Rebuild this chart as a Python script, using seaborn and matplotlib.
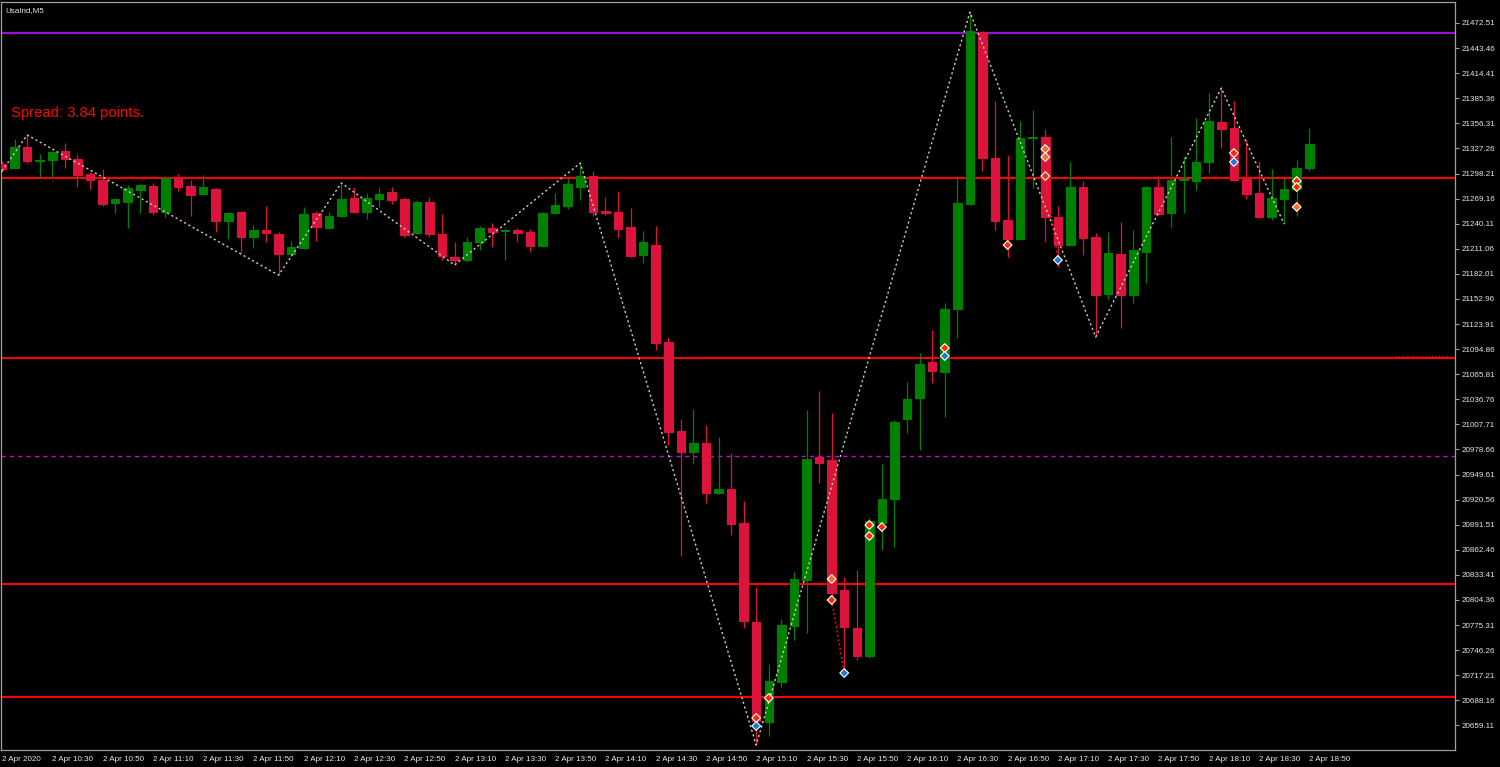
"""
UsaInd M5 candlestick chart in a dark trading terminal style
"""
import matplotlib
matplotlib.use("Agg")
import matplotlib.pyplot as plt
import seaborn as sns
import pandas as pd

symbol_label = "UsaInd,M5"
spread_label = "Spread: 3.84 points."

# OHLC of the 5 minute bars, 2 Apr 2020 10:10 .. 18:50
opens = [21309.2, 21304.6, 21328.9, 21312.7, 21313.8, 21324.2, 21315.0, 21297.6, 21290.7, 21264.0,
         21265.2, 21279.1, 21283.7, 21253.6, 21293.0, 21283.7, 21274.4, 21280.2, 21243.2, 21253.6,
         21224.7, 21232.8, 21228.1, 21205.0, 21211.9, 21252.4, 21235.1, 21249.0, 21269.8, 21253.6,
         21268.7, 21276.8, 21268.7, 21229.3, 21265.2, 21228.1, 21201.5, 21198.0, 21218.9, 21235.1,
         21231.6, 21232.8, 21230.4, 21214.2, 21252.4, 21260.6, 21282.6, 21295.3, 21254.8, 21253.6,
         21236.2, 21203.8, 21215.4, 21103.1, 21000.0, 20975.7, 20986.1, 20928.2, 20932.8, 20893.5,
         20778.8, 20663.0, 20709.3, 20774.2, 20827.5, 20969.9, 20966.4, 20815.9, 20771.9, 20739.5,
         20893.5, 20921.3, 21013.9, 21038.2, 21079.9, 21068.3, 21141.3, 21262.9, 21462.0, 21316.1,
         21244.3, 21222.3, 21339.3, 21340.5, 21247.8, 21215.4, 21282.6, 21224.7, 21158.6, 21205.0,
         21157.5, 21207.3, 21282.6, 21252.4, 21290.7, 21289.5, 21311.5, 21357.8, 21350.9, 21291.8,
         21275.6, 21247.8, 21268.7, 21280.2, 21304.6]
highs = [21312.7, 21338.1, 21342.8, 21320.8, 21324.2, 21333.5, 21320.8, 21299.9, 21303.4, 21269.8,
         21284.9, 21286.0, 21287.2, 21295.3, 21297.6, 21290.7, 21296.4, 21281.4, 21253.6, 21254.8,
         21238.5, 21260.6, 21230.4, 21220.0, 21259.4, 21254.8, 21253.6, 21287.2, 21282.6, 21275.6,
         21282.6, 21282.6, 21271.0, 21267.5, 21271.0, 21251.3, 21218.9, 21224.7, 21237.4, 21240.9,
         21235.1, 21235.1, 21233.9, 21253.6, 21275.6, 21293.0, 21310.3, 21301.1, 21271.0, 21277.9,
         21258.2, 21231.6, 21237.4, 21108.9, 21013.9, 21025.5, 21006.9, 20993.1, 20974.5, 20918.9,
         20819.4, 20730.2, 20782.3, 20836.7, 21024.3, 21046.3, 21020.8, 20830.9, 20839.0, 20899.3,
         20961.8, 21012.7, 21056.7, 21090.3, 21117.0, 21148.2, 21294.1, 21485.2, 21463.2, 21382.1,
         21319.6, 21359.0, 21371.7, 21349.7, 21260.6, 21311.5, 21289.5, 21229.3, 21230.4, 21242.0,
         21232.8, 21283.7, 21295.3, 21340.5, 21318.5, 21362.5, 21391.4, 21397.2, 21382.1, 21337.0,
         21312.7, 21303.4, 21293.0, 21313.8, 21350.9]
lows = [21299.9, 21303.4, 21310.3, 21293.0, 21293.0, 21304.6, 21282.6, 21280.2, 21260.6, 21252.4,
        21235.1, 21252.4, 21250.1, 21247.8, 21277.9, 21249.0, 21273.3, 21230.4, 21222.3, 21206.1,
        21211.9, 21218.9, 21180.6, 21202.7, 21210.8, 21220.0, 21233.9, 21247.8, 21252.4, 21245.5,
        21259.4, 21262.9, 21224.7, 21228.1, 21224.7, 21198.0, 21192.2, 21195.7, 21209.6, 21213.1,
        21198.0, 21218.9, 21207.3, 21213.1, 21251.3, 21257.1, 21267.5, 21249.0, 21250.1, 21223.5,
        21201.5, 21194.5, 21093.8, 20983.8, 20855.3, 20961.8, 20916.6, 20927.0, 20879.6, 20771.9,
        20636.4, 20646.8, 20703.6, 20758.0, 20766.1, 20939.8, 20798.5, 20715.1, 20734.8, 20737.1,
        20862.2, 20865.7, 20997.7, 20978.0, 21055.6, 21016.2, 21107.7, 21261.7, 21301.1, 21232.8,
        21201.5, 21221.2, 21281.4, 21218.9, 21189.9, 21214.2, 21203.8, 21108.9, 21152.9, 21119.3,
        21148.2, 21171.4, 21250.1, 21236.2, 21252.4, 21279.1, 21298.8, 21327.7, 21289.5, 21268.7,
        21246.7, 21244.3, 21239.7, 21249.0, 21301.1]
closes = [21303.4, 21328.9, 21312.7, 21313.8, 21323.1, 21315.0, 21296.4, 21290.7, 21262.9, 21268.7,
          21281.4, 21284.9, 21253.6, 21293.0, 21282.6, 21273.3, 21282.6, 21243.2, 21252.4, 21224.7,
          21232.8, 21229.3, 21205.0, 21213.1, 21251.3, 21236.2, 21249.0, 21268.7, 21253.6, 21269.8,
          21274.4, 21267.5, 21227.0, 21265.2, 21228.1, 21202.7, 21198.0, 21218.9, 21235.1, 21230.4,
          21232.8, 21229.3, 21214.2, 21252.4, 21261.7, 21286.0, 21295.3, 21253.6, 21252.4, 21233.9,
          21202.7, 21218.9, 21101.9, 20998.8, 20975.7, 20986.1, 20928.2, 20932.8, 20892.3, 20780.0,
          20664.2, 20710.5, 20775.3, 20828.6, 20967.6, 20962.9, 20812.4, 20773.0, 20739.5, 20895.8,
          20921.3, 21010.4, 21037.1, 21077.6, 21069.5, 21141.3, 21264.0, 21463.2, 21316.1, 21243.2,
          21222.3, 21339.3, 21340.5, 21247.8, 21215.4, 21282.6, 21223.5, 21157.5, 21206.1, 21157.5,
          21209.6, 21282.6, 21251.3, 21290.7, 21291.8, 21311.5, 21359.0, 21349.7, 21290.7, 21274.4,
          21247.8, 21269.8, 21280.2, 21304.6, 21332.3]

time_labels = ["2 Apr 2020", "2 Apr 10:30", "2 Apr 10:50", "2 Apr 11:10", "2 Apr 11:30",
               "2 Apr 11:50", "2 Apr 12:10", "2 Apr 12:30", "2 Apr 12:50", "2 Apr 13:10",
               "2 Apr 13:30", "2 Apr 13:50", "2 Apr 14:10", "2 Apr 14:30", "2 Apr 14:50",
               "2 Apr 15:10", "2 Apr 15:30", "2 Apr 15:50", "2 Apr 16:10", "2 Apr 16:30",
               "2 Apr 16:50", "2 Apr 17:10", "2 Apr 17:30", "2 Apr 17:50", "2 Apr 18:10",
               "2 Apr 18:30", "2 Apr 18:50"]
price_ticks = [21472.51, 21443.46, 21414.41, 21385.36, 21356.31, 21327.26, 21298.21, 21269.16,
               21240.11, 21211.06, 21182.01, 21152.96, 21123.91, 21094.86, 21065.81, 21036.76,
               21007.71, 20978.66, 20949.61, 20920.56, 20891.51, 20862.46, 20833.41, 20804.36,
               20775.31, 20746.26, 20717.21, 20688.16, 20659.11]

# zigzag pivots (bar index, price)
zigzag_bars = [0, 2, 22, 27, 36, 46, 60, 77, 87, 97, 102]
zigzag_prices = [21301.1, 21342.8, 21180.6, 21287.2, 21192.2, 21310.3,
                 20636.4, 21485.2, 21108.9, 21397.2, 21239.7]

# red dotted links between signals
link_bars = [[66, 67], [83, 84]]
link_prices = [[20804.3, 20719.8], [21295.3, 21198.0]]

# signal markers
signal_bars = [60, 60, 61, 66, 66, 67, 69, 69, 70, 75, 75, 80, 83, 83, 83, 84, 98, 98, 103, 103, 103]
signal_prices = [20667.7, 20658.4, 20690.8, 20828.6, 20804.3, 20719.8, 20891.1, 20878.4, 20888.8,
                 21096.1, 21086.9, 21215.4, 21326.6, 21317.3, 21295.3, 21198.0, 21321.9, 21311.5,
                 21289.5, 21282.6, 21259.4]
signal_kind = ["sell", "buy", "sell", "exit", "sell", "buy", "sell", "sell", "sell", "sell", "buy",
               "sell", "exit", "exit", "sell", "buy", "sell", "buy", "sell", "sell", "exit"]

red_levels = [21293.0, 21084.5, 20822.8, 20692.0]
purple_level = 21461.1
magenta_level = 20971.1
bid_level = 21086.9

BULL = "#008000"
BEAR = "#dc143c"
FRAME = "#a0a0a0"

sns.set_style("dark", {"axes.facecolor": "black", "figure.facecolor": "black"})
plt.rcParams['font.family'] = ['Liberation Sans', 'DejaVu Sans']

df = pd.DataFrame({"open": opens, "high": highs, "low": lows, "close": closes})
df["bar"] = range(len(df))
df["bull"] = df["close"] >= df["open"]

fig = plt.figure(figsize=(15, 7.67), dpi=100, facecolor="black")
ax = fig.add_axes([1 / 1500, 17 / 767, 1454 / 1500, 748.5 / 767])
ax.set_facecolor("black")

# horizontal levels
for lvl in red_levels:
    ax.axhline(lvl, color="#ff0000", lw=1.5, zorder=1)
ax.axhline(purple_level, color="#9b10d0", lw=1.6, zorder=1)
ax.axhline(magenta_level, color="#d000d0", lw=1.0, ls=(0, (3, 3)), zorder=1)
ax.hlines(bid_level, 110.8, 115.3, color="#ff0000", lw=0.8, ls=(0, (1, 2)), zorder=1)

# candles
for is_bull, color in [(True, BULL), (False, BEAR)]:
    part = df[df["bull"] == is_bull]
    ax.vlines(part["bar"], part["low"], part["high"], color=color, lw=0.9, zorder=2)
    ax.bar(part["bar"], part["close"] - part["open"], bottom=part["open"], width=0.68,
           color=color, edgecolor=color, linewidth=0.8, zorder=3)

# zigzag
sns.lineplot(x=zigzag_bars, y=zigzag_prices, ax=ax, sort=False, color="#d8d0c0",
             lw=1.0, linestyle=(0, (1.5, 2)), zorder=4)
for bars, prices in zip(link_bars, link_prices):
    ax.plot(bars, prices, color="#ff2020", lw=1.0, ls=(0, (1.2, 2)), zorder=4)

sig = pd.DataFrame({"bar": signal_bars, "price": signal_prices, "kind": signal_kind})
sns.scatterplot(data=sig, x="bar", y="price", hue="kind", ax=ax, marker="D", s=20,
                palette={"sell": "#ff2a00", "buy": "#1e78d8", "exit": "#ff6a2a"},
                edgecolor="white", linewidth=0.8, legend=False, zorder=5)

ax.set_xlim(-0.08, 115.59)
ax.set_ylim(20630.6, 21497.4)

ax.set_xticks(range(0, len(df), 4))
ax.set_xticklabels(time_labels, ha="left")
ax.yaxis.tick_right()
ax.set_yticks(price_ticks)
ax.set_yticklabels([f"{p:.2f}" for p in price_ticks])
ax.tick_params(axis="both", colors=FRAME, labelcolor="#e8e8e8", labelsize=5.8,
               length=3, width=0.8, direction="out")
ax.tick_params(axis="x", pad=1.5)
ax.tick_params(axis="y", pad=1.5)
ax.set_xlabel("")
ax.set_ylabel("")
ax.grid(False)
for side in ["left", "right", "top", "bottom"]:
    ax.spines[side].set_visible(True)
    ax.spines[side].set_color(FRAME)
    ax.spines[side].set_linewidth(0.9)

ax.text(4 / 1453, 1 - 9 / 748.5, symbol_label, transform=ax.transAxes, color="#e8e8e8",
        fontsize=5.8, va="center", ha="left")
ax.text(10 / 1453, 1 - 112 / 748.5, spread_label, transform=ax.transAxes, color="#ff0000",
        fontsize=10.7, va="center", ha="left")

fig.savefig("out.png", dpi=100, facecolor="black")
